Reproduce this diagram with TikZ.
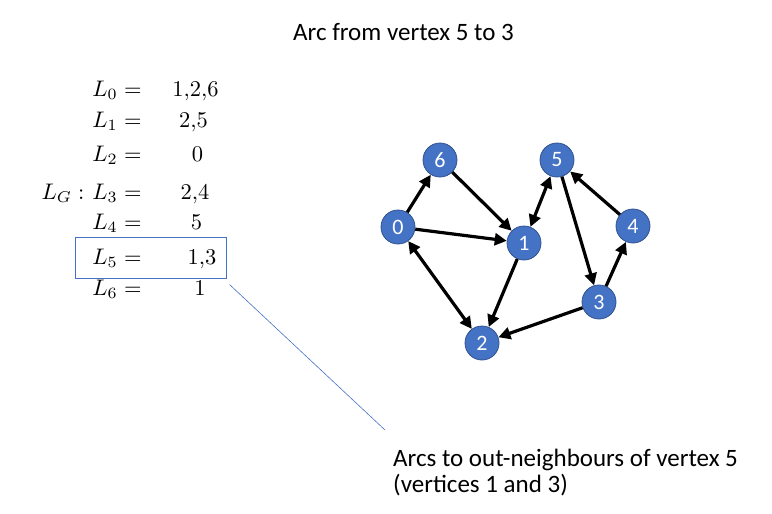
\documentclass[tikz,border=0pt]{standalone}
\usepackage{fontspec}
\setmainfont{Carlito}
\usetikzlibrary{arrows.meta}
\definecolor{vblue}{HTML}{4472C4}
\definecolor{vedge}{HTML}{2F528F}

\begin{document}
\begin{tikzpicture}[
  x=1pt, y=-1pt,
  vertex/.style={circle, draw=vedge, line width=0.8pt, fill=vblue, text=white,
    minimum size=34pt, inner sep=0pt, font=\fontsize{22}{24}\selectfont},
  arc/.style={draw, line width=3.2pt, -{Triangle[length=12pt, width=12pt]}},
  biarc/.style={draw, line width=3.2pt,
    {Triangle[length=12pt, width=12pt]}-{Triangle[length=12pt, width=12pt]}},
  adj/.style={anchor=base east, inner sep=0pt, scale=2.25},
  val/.style={anchor=base, inner sep=0pt, scale=2.25},
  txt/.style={inner sep=0pt, font=\fontsize{25}{26}\selectfont}
]
\useasboundingbox (0,0) rectangle (772,514);

% title
\node[txt, anchor=base] (title) at (403.5,40) {Arc from vertex 5 to 3};

% adjacency lists
\node[adj] (l0) at (142,96)  {$L_0 =$};
\node[adj] (l1) at (142,127) {$L_1 =$};
\node[adj] (l2) at (142,161) {$L_2 =$};
\node[adj] (l3) at (142,199) {$L_3 =$};
\node[adj] (l4) at (142,229) {$L_4 =$};
\node[adj] (l5) at (142,264) {$L_5 =$};
\node[adj] (l6) at (142,295) {$L_6 =$};
\node[adj] (lg) at ([xshift=-7pt]l3.base west) {$L_G :$};

\node[val] (n0) at (195.5,96)  {$1{,}2{,}6$};
\node[val] (n1) at (193.5,127) {$2{,}5$};
\node[val] (n2) at (197.5,161) {$0$};
\node[val] (n3) at (195,199)   {$2{,}4$};
\node[val] (n4) at (196.5,229) {$5$};
\node[val] (n5) at (202,264)   {$1{,}3$};
\node[val] (n6) at (200,295)   {$1$};

% highlighted row
\node[draw=vblue, line width=1pt, minimum width=151pt, minimum height=41pt,
  inner sep=0pt] (box) at (150.5,257.5) {};

% graph
\node[vertex] (v0) at (398,227) {0};
\node[vertex] (v6) at (440,160) {6};
\node[vertex] (v5) at (557,160) {5};
\node[vertex] (v1) at (524,243) {1};
\node[vertex] (v4) at (633,226) {4};
\node[vertex] (v3) at (599,302) {3};
\node[vertex] (v2) at (482,343) {2};

\draw[arc] (v0) -- (v6);
\draw[arc] (v6) -- (v1);
\draw[arc] (v0) -- (v1);
\draw[biarc] (v1) -- (v5);
\draw[biarc] (v0) -- (v2);
\draw[arc] (v1) -- (v2);
\draw[arc] (v5) -- (v3);
\draw[arc] (v3) -- (v4);
\draw[arc] (v4) -- (v5);
\draw[arc] (v3) -- (v2);

% callout
\node[txt, anchor=base west, align=left] (note) at (393,492)
  {Arcs to out-neighbours of vertex 5\\(vertices 1 and 3)};
\coordinate (from) at ([shift={(3,6)}]box.south east);
\coordinate (to) at (385,430);
\draw[vblue, line width=0.6pt] (from) -- (to);
\end{tikzpicture}
\end{document}
